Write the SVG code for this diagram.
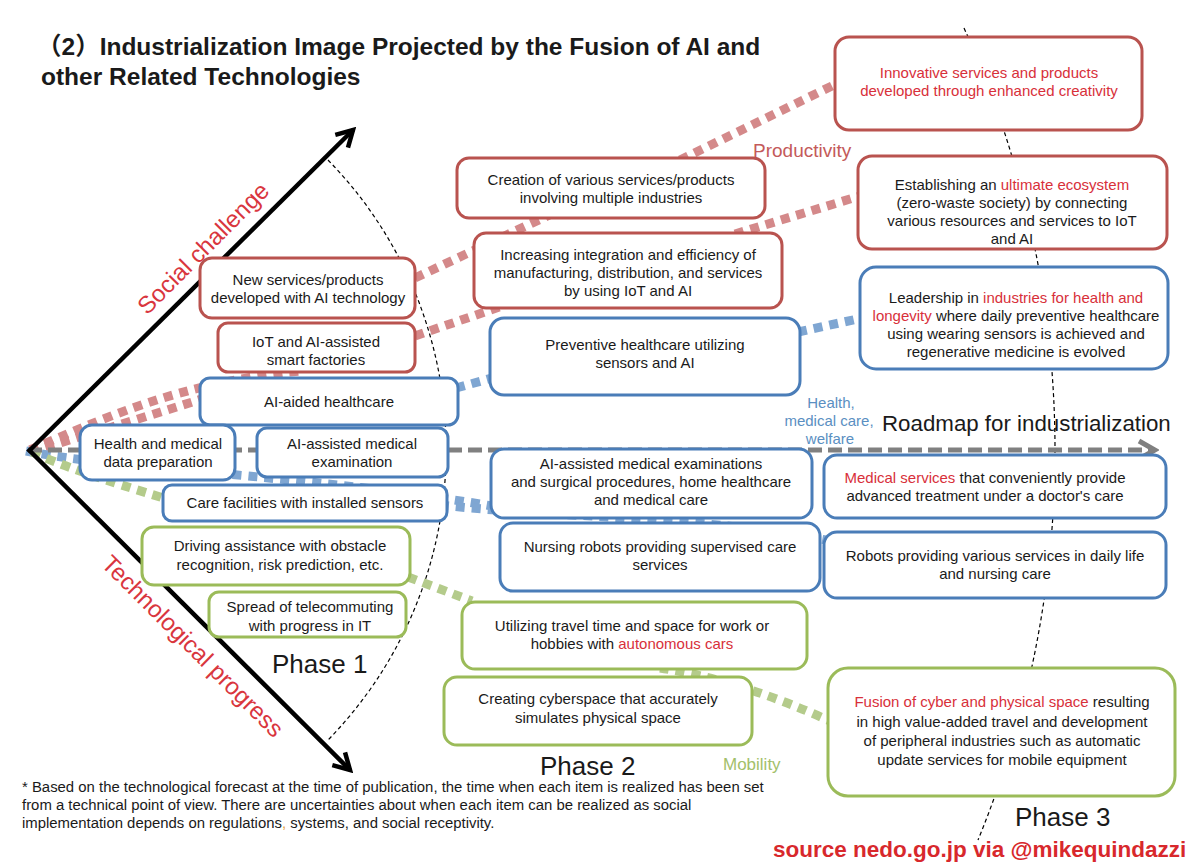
<svg xmlns="http://www.w3.org/2000/svg" width="1200" height="867" viewBox="0 0 1200 867">
<defs>
<style>
text{font-family:"Liberation Sans",Arial,"Noto Sans CJK JP",sans-serif;fill:#1a1a1a}
.t{font-size:15px;text-anchor:middle}
.hl{fill:#d8303a}
.box{fill:#fff;stroke-width:3}
.r{stroke:#b9534f}
.b{stroke:#4a7db8}
.g{stroke:#9bbb59}
.cr{fill:none;stroke:#d4898a;stroke-width:9;stroke-dasharray:9 7}
.cb{fill:none;stroke:#7fa6d2;stroke-width:9;stroke-dasharray:9 7}
.cg{fill:none;stroke:#b4cb8b;stroke-width:9;stroke-dasharray:9 7}
.arc{fill:none;stroke:#000;stroke-width:1.2;stroke-dasharray:4 3}
</style>
<marker id="blk" viewBox="0 0 24 24" refX="20" refY="12" markerWidth="24" markerHeight="24" markerUnits="userSpaceOnUse" orient="auto">
<path d="M4,3 L20,12 L4,21" fill="none" stroke="#000" stroke-width="4.5" stroke-linejoin="miter"/>
</marker>
<marker id="gry" viewBox="0 0 24 24" refX="20" refY="12" markerWidth="24" markerHeight="24" markerUnits="userSpaceOnUse" orient="auto">
<path d="M4,3 L20,12 L4,21" fill="none" stroke="#808080" stroke-width="5"/>
</marker>
</defs>
<rect width="1200" height="867" fill="#fff"/>

<!-- title -->
<g id="title" font-weight="bold" font-size="24.5">
<text x="37" y="55" style="font-weight:bold">（2）Industrialization Image Projected by the Fusion of AI and</text>
<text x="41" y="85" style="font-weight:bold">other Related Technologies</text>
</g>

<!-- arcs -->
<path class="arc" d="M 328 160 A 415 415 0 0 1 328 740"/>
<path class="arc" d="M 964 28 A 1025 1025 0 0 1 978 840"/>

<!-- connectors -->
<g id="connectors">
<path class="cr" d="M 30 450 C 100 420 180 382 300 371"/>
<path class="cr" d="M 30 452 Q 120 425 205 398"/>
<path class="cr" d="M 415 278 L 560 210"/>
<path class="cr" d="M 415 336 L 505 305"/>
<path class="cr" d="M 680 160 L 838 83"/>
<path class="cr" d="M 735 234 L 860 196"/>
<path class="cb" d="M 26 451 C 120 470 300 474 492 506"/>
<path class="cb" d="M 456 388 L 492 378"/>
<path class="cb" d="M 798 332 L 862 318"/>
<path class="cb" d="M 440 505 C 560 518 700 516 826 540"/>
<path class="cg" d="M 32 452 Q 70 470 170 500"/>
<path class="cg" d="M 408 577 L 472 601"/>
<path class="cg" d="M 660 668 Q 740 680 832 722"/>
<line x1="28" y1="450" x2="1155" y2="450" stroke="#808080" stroke-width="5" stroke-dasharray="14 6" marker-end="url(#gry)"/>
<line x1="28" y1="452" x2="353" y2="130" stroke="#000" stroke-width="4.5" marker-end="url(#blk)"/>
<line x1="28" y1="449" x2="350" y2="770" stroke="#000" stroke-width="4.5" marker-end="url(#blk)"/>
</g>

<!-- axis labels -->
<text x="209" y="254" transform="rotate(-45 209 254)" font-size="24" text-anchor="middle" style="fill:#d9363e">Social challenge</text>
<text x="187" y="652" transform="rotate(45 187 652)" font-size="24" text-anchor="middle" style="fill:#d9363e">Technological progress</text>
<text x="753" y="157" font-size="19" style="fill:#c45a5a">Productivity</text>
<g font-size="15" text-anchor="middle">
<text x="831" y="408" style="fill:#5a8fc2">Health,</text>
<text x="829" y="426" style="fill:#5a8fc2">medical care,</text>
<text x="830" y="444" style="fill:#5a8fc2">welfare</text>
</g>
<text x="882" y="431" font-size="22.3">Roadmap for industrialization</text>
<text x="272" y="673" font-size="26">Phase 1</text>
<text x="540" y="775" font-size="26">Phase 2</text>
<text x="1015" y="826" font-size="26">Phase 3</text>
<text x="723" y="770" font-size="17" style="fill:#a3c06a">Mobility</text>

<!-- red nodes -->
<g id="n-innovative">
<rect class="box r" x="835" y="37" width="307" height="93" rx="14"/>
<text class="t" x="989" y="78"><tspan class="hl">Innovative services and products</tspan></text>
<text class="t" x="989" y="96"><tspan class="hl">developed through enhanced creativity</tspan></text>
</g>
<g id="n-establishing">
<rect class="box r" x="858" y="156" width="309" height="93" rx="14"/>
<text class="t" x="1012" y="190">Establishing an <tspan class="hl">ultimate ecosystem</tspan></text>
<text class="t" x="1012" y="208">(zero-waste society) by connecting</text>
<text class="t" x="1012" y="226">various resources and services to IoT</text>
<text class="t" x="1012" y="244">and AI</text>
</g>
<g id="n-creation">
<rect class="box r" x="457" y="158" width="308" height="60" rx="12"/>
<text class="t" x="611" y="185">Creation of various services/products</text>
<text class="t" x="611" y="203">involving multiple industries</text>
</g>
<g id="n-increasing">
<rect class="box r" x="474" y="233" width="308" height="75" rx="12"/>
<text class="t" x="628" y="260">Increasing integration and efficiency of</text>
<text class="t" x="628" y="278">manufacturing, distribution, and services</text>
<text class="t" x="628" y="296">by using IoT and AI</text>
</g>
<g id="n-newservices">
<rect class="box r" x="200" y="258" width="215" height="60" rx="12"/>
<text class="t" x="308" y="285">New services/products</text>
<text class="t" x="308" y="303">developed with AI technology</text>
</g>
<g id="n-iot">
<rect class="box r" x="218" y="323" width="197" height="49" rx="10"/>
<text class="t" x="316" y="347">IoT and AI-assisted</text>
<text class="t" x="316" y="365">smart factories</text>
</g>

<!-- blue nodes -->
<g id="n-aiaided">
<rect class="box b" x="200" y="378" width="258" height="47" rx="10"/>
<text class="t" x="329" y="407">AI-aided healthcare</text>
</g>
<g id="n-healthdata">
<rect class="box b" x="80" y="425" width="155" height="55" rx="12"/>
<text class="t" x="158" y="449">Health and medical</text>
<text class="t" x="158" y="467">data preparation</text>
</g>
<g id="n-aiexam">
<rect class="box b" x="257" y="428" width="191" height="49" rx="10"/>
<text class="t" x="352" y="449">AI-assisted medical</text>
<text class="t" x="352" y="467">examination</text>
</g>
<g id="n-care">
<rect class="box b" x="163" y="485" width="284" height="36" rx="9"/>
<text class="t" x="305" y="508">Care facilities with installed sensors</text>
</g>
<g id="n-preventive">
<rect class="box b" x="490" y="318" width="310" height="77" rx="14"/>
<text class="t" x="645" y="350">Preventive healthcare utilizing</text>
<text class="t" x="645" y="368">sensors and AI</text>
</g>
<g id="n-leadership">
<rect class="box b" x="860" y="267" width="308" height="102" rx="16"/>
<text class="t" x="1016" y="303">Leadership in <tspan class="hl">industries for health and</tspan></text>
<text class="t" x="1016" y="321"><tspan class="hl">longevity</tspan> where daily preventive healthcare</text>
<text class="t" x="1016" y="339">using wearing sensors is achieved and</text>
<text class="t" x="1016" y="357">regenerative medicine is evolved</text>
</g>
<g id="n-aiexams2">
<rect class="box b" x="491" y="449" width="321" height="69" rx="13"/>
<text class="t" x="651" y="469">AI-assisted medical examinations</text>
<text class="t" x="651" y="487">and surgical procedures, home healthcare</text>
<text class="t" x="651" y="505">and medical care</text>
</g>
<g id="n-nursing">
<rect class="box b" x="500" y="523" width="320" height="68" rx="13"/>
<text class="t" x="660" y="552">Nursing robots providing supervised care</text>
<text class="t" x="660" y="570">services</text>
</g>
<g id="n-medical">
<rect class="box b" x="824" y="455" width="342" height="63" rx="13"/>
<text class="t" x="985" y="483"><tspan class="hl">Medical services</tspan> that conveniently provide</text>
<text class="t" x="985" y="501">advanced treatment under a doctor's care</text>
</g>
<g id="n-robots">
<rect class="box b" x="824" y="532" width="342" height="66" rx="13"/>
<text class="t" x="995" y="561">Robots providing various services in daily life</text>
<text class="t" x="995" y="579">and nursing care</text>
</g>

<!-- green nodes -->
<g id="n-driving">
<rect class="box g" x="142" y="527" width="268" height="58" rx="12"/>
<text class="t" x="280" y="551">Driving assistance with obstacle</text>
<text class="t" x="280" y="570">recognition, risk prediction, etc.</text>
</g>
<g id="n-telecommuting">
<rect class="box g" x="209" y="592" width="197" height="45" rx="10"/>
<text class="t" x="310" y="612">Spread of telecommuting</text>
<text class="t" x="310" y="631">with progress in IT</text>
</g>
<g id="n-utilizing">
<rect class="box g" x="462" y="602" width="345" height="67" rx="13"/>
<text class="t" x="632" y="631">Utilizing travel time and space for work or</text>
<text class="t" x="632" y="649">hobbies with <tspan class="hl">autonomous cars</tspan></text>
</g>
<g id="n-cyberspace">
<rect class="box g" x="444" y="677" width="308" height="68" rx="13"/>
<text class="t" x="598" y="704">Creating cyberspace that accurately</text>
<text class="t" x="598" y="723">simulates physical space</text>
</g>
<g id="n-fusion">
<rect class="box g" x="828" y="668" width="347" height="128" rx="20"/>
<text class="t" x="1002" y="707"><tspan class="hl">Fusion of cyber and physical space</tspan> resulting</text>
<text class="t" x="1002" y="727">in high value-added travel and development</text>
<text class="t" x="1002" y="746">of peripheral industries such as automatic</text>
<text class="t" x="1002" y="765">update services for mobile equipment</text>
</g>

<!-- footnote -->
<g id="footnote" font-size="14.9">
<text x="22" y="792">* Based on the technological forecast at the time of publication, the time when each item is realized has been set</text>
<text x="22" y="810">from a technical point of view. There are uncertainties about when each item can be realized as social</text>
<text x="22" y="828">implementation depends on regulations<tspan style="fill:#e8a040">,</tspan> systems, and social receptivity.</text>
</g>
<text x="773" y="857" font-size="22.5" font-weight="bold" style="fill:#d8282c;font-weight:bold">source nedo.go.jp via @mikequindazzi</text>
</svg>
